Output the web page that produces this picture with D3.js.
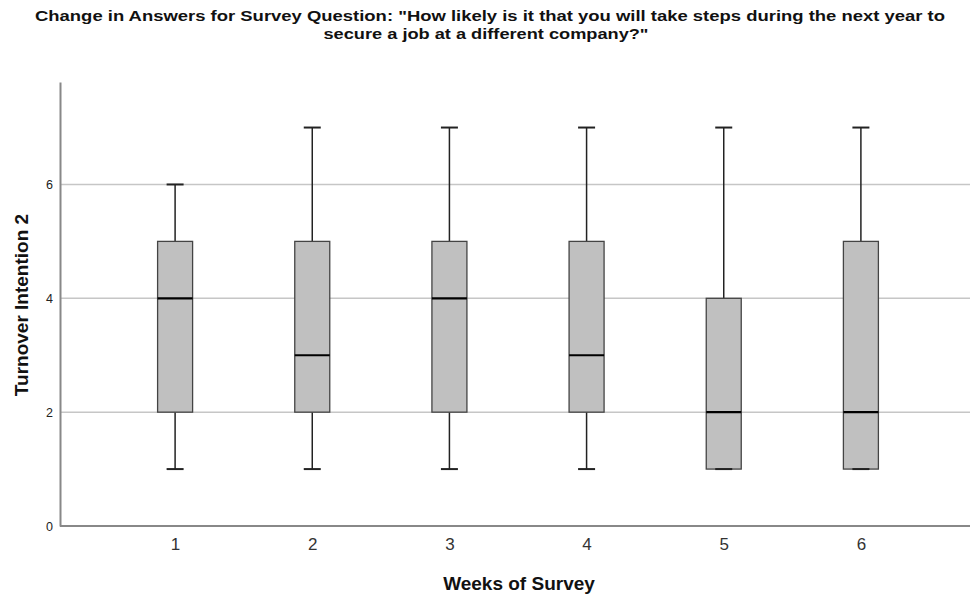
<!DOCTYPE html>
<html>
<head>
<meta charset="utf-8">
<script src="https://cdn.jsdelivr.net/npm/d3@7"></script>
<style>
  body { margin: 0; background: #fff; }
  svg text { font-family: "Liberation Sans", Arial, sans-serif; }
</style>
</head>
<body>
<div id="chart"></div>
<script>
// weeks of survey
const weeks = [1, 2, 3, 4, 5, 6];
// five-number summaries per week
const mins    = [1, 1, 1, 1, 1, 1];
const q1s     = [2, 2, 2, 2, 1, 1];
const medians = [4, 3, 4, 3, 2, 2];
const q3s     = [5, 5, 5, 5, 4, 5];
const maxs    = [6, 7, 7, 7, 7, 7];
const yTicks = [0, 2, 4, 6];

(function() {
    'use strict';

    const width = 970;
    const height = 595;
    const marginLeft = 60;
    const marginTop = 82;
    const marginBottom = 69;

    const rows = weeks.map((w, i) => ({
        week: w, min: mins[i], q1: q1s[i], median: medians[i], q3: q3s[i], max: maxs[i]
    }));

    const svg = d3.select("#chart")
        .append("svg")
        .attr("width", width)
        .attr("height", height);

    // X SCALE
    const x = d3.scalePoint()
        .domain(weeks)
        .range([64, 972])
        .padding(0.81);

    // Y SCALE
    const y = d3.scaleLinear()
        .domain([0, 7.8])
        .range([height - marginBottom, marginTop]);

    // GRID
    svg.append("g")
        .selectAll("line")
        .data(yTicks.filter(d => d > 0))
        .join("line")
        .attr("x1", marginLeft)
        .attr("x2", width)
        .attr("y1", d => y(d))
        .attr("y2", d => y(d))
        .attr("stroke", "#c6c6c6")
        .attr("stroke-width", 1.5);

    // Y AXIS
    svg.append("g")
        .attr("transform", `translate(${marginLeft}, 0)`)
        .call(d3.axisLeft(y).tickValues(yTicks).tickSize(0).tickPadding(7))
        .call(g => g.select(".domain").attr("stroke", "#888").attr("stroke-width", 2))
        .selectAll("text")
        .attr("fill", "#222")
        .attr("font-size", "12.5px");

    // X AXIS
    svg.append("g")
        .attr("transform", `translate(0, ${y(0)})`)
        .call(d3.axisBottom(x).tickSize(0).tickPadding(12))
        .call(g => g.select(".domain").attr("stroke", "#888").attr("stroke-width", 2).attr("d", `M${marginLeft},0H${width}`))
        .selectAll("text")
        .attr("fill", "#333")
        .attr("font-size", "17px");

    const boxW = 35;
    const capW = 17;
    const boxes = svg.append("g")
        .selectAll("g")
        .data(rows)
        .join("g");

    // whiskers
    boxes.append("line")
        .attr("x1", d => x(d.week)).attr("x2", d => x(d.week))
        .attr("y1", d => y(d.max)).attr("y2", d => y(d.q3))
        .attr("stroke", "#222").attr("stroke-width", 1.5);
    boxes.append("line")
        .attr("x1", d => x(d.week)).attr("x2", d => x(d.week))
        .attr("y1", d => y(d.q1)).attr("y2", d => y(d.min))
        .attr("stroke", "#222").attr("stroke-width", 1.5);

    // box
    boxes.append("rect")
        .attr("x", d => x(d.week) - boxW / 2)
        .attr("y", d => y(d.q3))
        .attr("width", boxW)
        .attr("height", d => y(d.q1) - y(d.q3))
        .attr("fill", "#c0c0c0")
        .attr("stroke", "#444")
        .attr("stroke-width", 1.3);

    // caps
    boxes.append("line")
        .attr("x1", d => x(d.week) - capW / 2).attr("x2", d => x(d.week) + capW / 2)
        .attr("y1", d => y(d.max)).attr("y2", d => y(d.max))
        .attr("stroke", "#222").attr("stroke-width", 2);
    boxes.append("line")
        .attr("x1", d => x(d.week) - capW / 2).attr("x2", d => x(d.week) + capW / 2)
        .attr("y1", d => y(d.min)).attr("y2", d => y(d.min))
        .attr("stroke", "#222").attr("stroke-width", 2);

    // median
    boxes.append("line")
        .attr("x1", d => x(d.week) - boxW / 2).attr("x2", d => x(d.week) + boxW / 2)
        .attr("y1", d => y(d.median)).attr("y2", d => y(d.median))
        .attr("stroke", "#000").attr("stroke-width", 2.2);

    // TITLE (two lines, stretched to the reference width)
    svg.append("text")
        .attr("x", 490)
        .attr("y", 21)
        .attr("text-anchor", "middle")
        .attr("font-size", "15.5px")
        .attr("font-weight", "bold")
        .attr("fill", "#111")
        .attr("textLength", 910)
        .attr("lengthAdjust", "spacingAndGlyphs")
        .text('Change in Answers for Survey Question: "How likely is it that you will take steps during the next year to');
    svg.append("text")
        .attr("x", 486)
        .attr("y", 39)
        .attr("text-anchor", "middle")
        .attr("font-size", "15.5px")
        .attr("font-weight", "bold")
        .attr("fill", "#111")
        .attr("textLength", 325)
        .attr("lengthAdjust", "spacingAndGlyphs")
        .text('secure a job at a different company?"');

    // AXIS LABELS
    svg.append("text")
        .attr("x", 519)
        .attr("y", 590)
        .attr("text-anchor", "middle")
        .attr("font-size", "19px")
        .attr("font-weight", "bold")
        .attr("fill", "#111")
        .text("Weeks of Survey");

    svg.append("text")
        .attr("transform", "translate(28, 305) rotate(-90)")
        .attr("text-anchor", "middle")
        .attr("font-size", "19px")
        .attr("font-weight", "bold")
        .attr("fill", "#111")
        .text("Turnover Intention 2");
})();
</script>
</body>
</html>
